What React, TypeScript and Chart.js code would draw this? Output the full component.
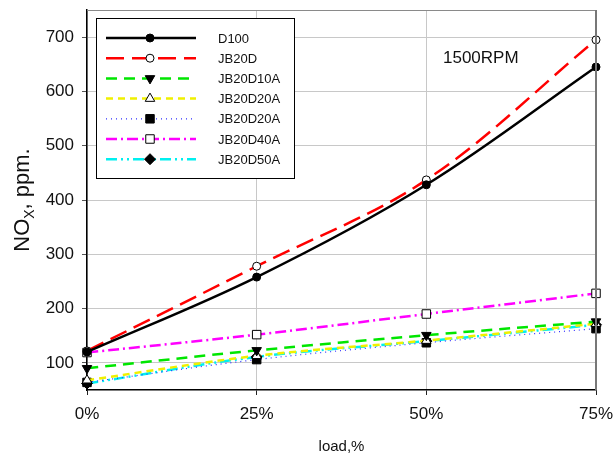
import React, { useEffect, useRef } from "react";
import { Chart, registerables } from "chart.js";

Chart.register(...registerables);

const loads = [0, 25, 50, 75];
const xTicks = [0, 25, 50, 75];
const yTicks = [100, 200, 300, 400, 500, 600, 700];

const d100 = [120, 258, 428, 645];
const jb20d = [122, 278, 437, 695];
const jb20d10a = [90, 123, 151, 176];
const jb20d20aTri = [68, 113, 141, 172];
const jb20d20aSq = [64, 106, 137, 163];
const jb20d40a = [119, 152, 190, 228];
const jb20d50a = [62, 111, 140, 170];

const labels = ["D100", "JB20D", "JB20D10A", "JB20D20A", "JB20D20A", "JB20D40A", "JB20D50A"];
const seriesValues = [d100, jb20d, jb20d10a, jb20d20aTri, jb20d20aSq, jb20d40a, jb20d50a];

const styles = [
  { color: "#000000", dash: [], width: 2.5, point: "circle", radius: 4, fill: "#000000", rot: 0 },
  { color: "#ff0000", dash: [18, 8], width: 2.5, point: "circle", radius: 4, fill: "#ffffff", rot: 0 },
  { color: "#00e600", dash: [11, 7], width: 2.5, point: "triangle", radius: 5.5, fill: "#000000", rot: 180 },
  { color: "#f0f000", dash: [7, 5], width: 2.5, point: "triangle", radius: 5.5, fill: "#ffffff", rot: 0 },
  { color: "#3030ff", dash: [1, 4], width: 1.2, point: "rect", radius: 6, fill: "#000000", rot: 0 },
  { color: "#ff00ff", dash: [11, 4, 2, 4], width: 2.5, point: "rect", radius: 6, fill: "#ffffff", rot: 0 },
  { color: "#00f0f0", dash: [11, 4, 2, 4, 2, 4], width: 2.5, point: "rectRot", radius: 5.5, fill: "#000000", rot: 0 },
];

const FONT = "'Liberation Sans', Arial, sans-serif";

function drawMarker(ctx: CanvasRenderingContext2D, s: any, x: number, y: number) {
  ctx.save();
  ctx.setLineDash([]);
  ctx.lineWidth = 1;
  ctx.strokeStyle = "#000";
  ctx.fillStyle = s.fill;
  ctx.beginPath();
  const r = s.radius;
  if (s.point === "circle") {
    ctx.arc(x, y, r, 0, Math.PI * 2);
  } else if (s.point === "triangle") {
    const dir = s.rot === 180 ? 1 : -1;
    const w = r * Math.sin(Math.PI / 3);
    ctx.moveTo(x, y + dir * r);
    ctx.lineTo(x - w, y - dir * r * 0.5);
    ctx.lineTo(x + w, y - dir * r * 0.5);
    ctx.closePath();
  } else if (s.point === "rect") {
    const h = r * Math.SQRT1_2;
    ctx.rect(x - h, y - h, 2 * h, 2 * h);
  } else {
    ctx.moveTo(x, y - r);
    ctx.lineTo(x + r, y);
    ctx.lineTo(x, y + r);
    ctx.lineTo(x - r, y);
    ctx.closePath();
  }
  ctx.fill();
  ctx.stroke();
  ctx.restore();
}

const decorPlugin = {
  id: "decor",
  afterDatasetsDraw(chart: any) {
    const ctx = chart.ctx as CanvasRenderingContext2D;
    const a = chart.chartArea;
    ctx.save();
    // top and right frame
    ctx.strokeStyle = "#8a8a8a";
    ctx.lineWidth = 1;
    ctx.beginPath();
    ctx.moveTo(a.left, a.top + 0.5);
    ctx.lineTo(a.right, a.top + 0.5);
    ctx.stroke();
    ctx.strokeStyle = "#777";
    ctx.lineWidth = 2;
    ctx.beginPath();
    ctx.moveTo(a.right, a.top);
    ctx.lineTo(a.right, a.bottom);
    ctx.stroke();

    // annotation
    ctx.fillStyle = "#111";
    ctx.font = `17px ${FONT}`;
    ctx.textBaseline = "middle";
    ctx.textAlign = "left";
    ctx.fillText("1500RPM", 443, 58);

    // legend box
    const bx = 96, by = 18, bw = 198, bh = 160;
    ctx.fillStyle = "#fff";
    ctx.fillRect(bx, by, bw, bh);
    ctx.strokeStyle = "#000";
    ctx.lineWidth = 1;
    ctx.strokeRect(bx + 0.5, by + 0.5, bw, bh);
    chart.data.datasets.forEach((ds: any, i: number) => {
      const s = styles[i];
      const y = 38 + i * 20.2;
      ctx.save();
      ctx.strokeStyle = s.color;
      ctx.lineWidth = s.width;
      ctx.setLineDash(s.dash);
      ctx.beginPath();
      ctx.moveTo(106, y);
      ctx.lineTo(196, y);
      ctx.stroke();
      ctx.restore();
      drawMarker(ctx, s, 150, y);
      ctx.fillStyle = "#111";
      ctx.font = `13px ${FONT}`;
      ctx.textBaseline = "middle";
      ctx.textAlign = "left";
      ctx.fillText(ds.label, 218, y + 1);
    });

    // y title with subscript
    ctx.save();
    ctx.translate(29, (a.top + a.bottom) / 2);
    ctx.rotate(-Math.PI / 2);
    ctx.fillStyle = "#111";
    ctx.textBaseline = "alphabetic";
    ctx.textAlign = "left";
    const big = `22px ${FONT}`;
    const small = `14px ${FONT}`;
    ctx.font = big;
    const w1 = ctx.measureText("NO").width;
    const w3 = ctx.measureText(", ppm.").width;
    ctx.font = small;
    const w2 = ctx.measureText("X").width;
    let x = -(w1 + w2 + w3) / 2;
    ctx.font = big;
    ctx.fillText("NO", x, 0);
    x += w1;
    ctx.font = small;
    ctx.fillText("X", x, 5);
    x += w2;
    ctx.font = big;
    ctx.fillText(", ppm.", x, 0);
    ctx.restore();

    ctx.restore();
  },
};

export default function App() {
  const ref = useRef<HTMLCanvasElement | null>(null);
  useEffect(() => {
    if (!ref.current) return;
    const chart = new Chart(ref.current, {
      type: "line",
      data: {
        datasets: seriesValues.map((vals, i) => {
          const s = styles[i];
          return {
            label: labels[i],
            data: loads.map((l, j) => ({ x: l, y: vals[j] })),
            borderColor: s.color,
            borderWidth: s.width,
            borderDash: s.dash,
            pointStyle: s.point as any,
            pointRotation: s.rot,
            pointRadius: s.radius,
            pointBackgroundColor: s.fill,
            pointBorderColor: "#000",
            pointBorderWidth: 1,
            tension: 0.35,
            fill: false,
            clip: false as any,
          };
        }),
      },
      options: {
        animation: false,
        responsive: false,
        maintainAspectRatio: false,
        layout: { padding: { top: 10, right: 17, left: 0, bottom: 0 } },
        plugins: { legend: { display: false }, tooltip: { enabled: false } },
        scales: {
          x: {
            type: "linear",
            min: 0,
            max: 75,
            afterBuildTicks: (scale: any) => {
              scale.ticks = xTicks.map((v) => ({ value: v }));
            },
            afterFit: (scale: any) => {
              scale.height = 70;
              scale.paddingLeft = 0;
              scale.paddingRight = 0;
            },
            ticks: {
              color: "#111",
              font: { family: FONT, size: 17 },
              padding: 9,
              maxRotation: 0,
              callback: (v: any) => `${v}%`,
            },
            grid: { color: "#c8c8c8", lineWidth: 1, tickLength: 5, tickColor: "#222", drawTicks: true },
            border: { color: "#000", width: 1.5 },
            title: {
              display: true,
              text: "load,%",
              color: "#111",
              font: { family: FONT, size: 15 },
              padding: { top: 14 },
            },
          },
          y: {
            type: "linear",
            min: 50,
            max: 750,
            afterBuildTicks: (scale: any) => {
              scale.ticks = yTicks.map((v) => ({ value: v }));
            },
            afterFit: (scale: any) => {
              scale.width = 87;
              scale.paddingTop = 0;
              scale.paddingBottom = 0;
            },
            ticks: {
              color: "#111",
              font: { family: FONT, size: 17 },
              padding: 8,
            },
            grid: { color: "#c8c8c8", lineWidth: 1, tickLength: 5, tickColor: "#555", drawTicks: true },
            border: { color: "#000", width: 1.5 },
          },
        },
      },
      plugins: [decorPlugin],
    });
    return () => chart.destroy();
  }, []);
  return (
    <div style={{ position: "fixed", left: 0, top: 0, width: 613, height: 460, background: "#fff" }}>
      <canvas ref={ref} width={613} height={460} style={{ width: 613, height: 460 }} />
    </div>
  );
}
